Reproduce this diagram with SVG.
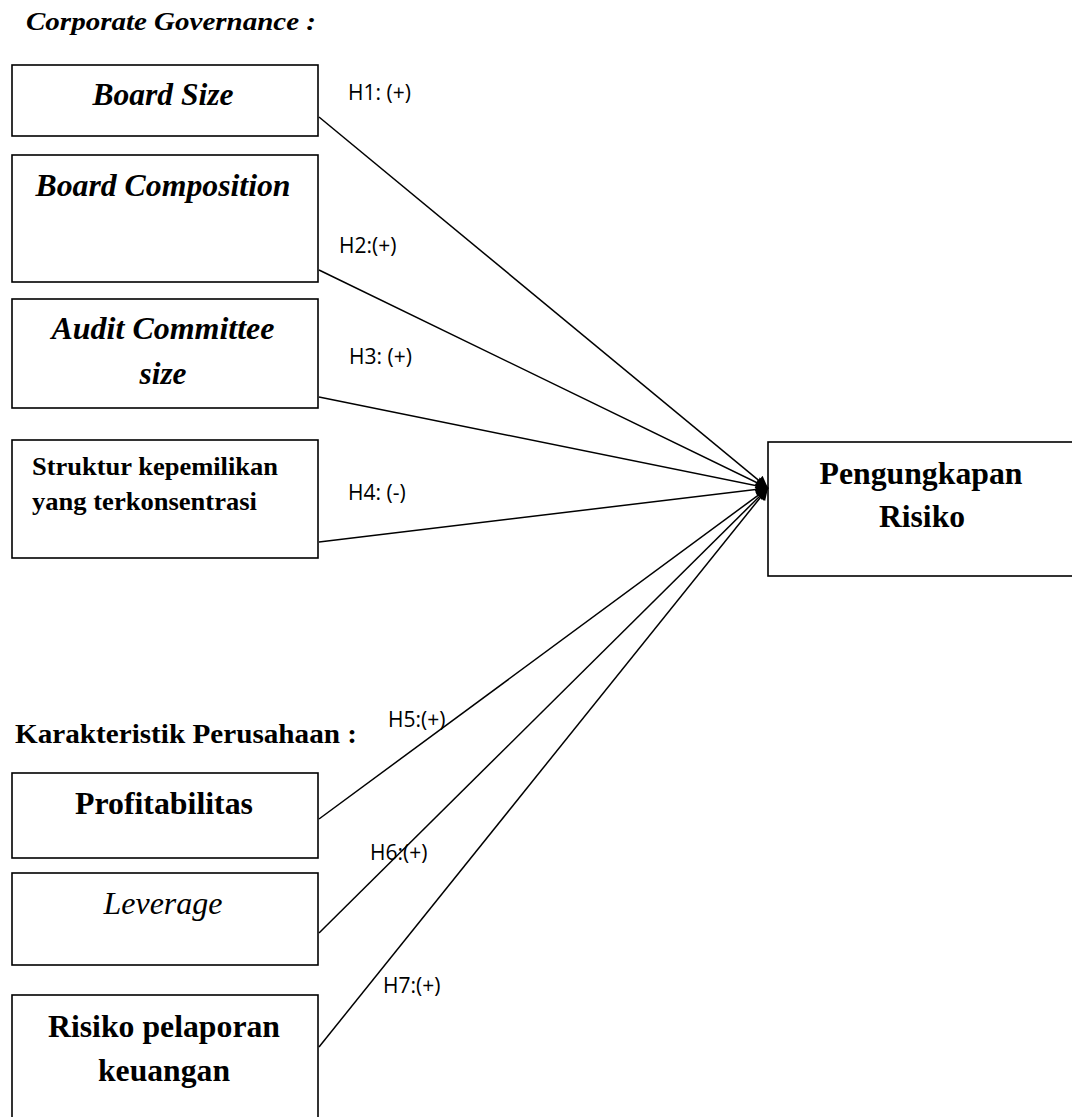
<svg xmlns="http://www.w3.org/2000/svg" width="1072" height="1117" viewBox="0 0 1072 1117">
<style>
.box{fill:#fff;stroke:#000;stroke-width:1.6}
.t{font-family:"Liberation Serif","Times New Roman",serif;font-weight:bold;fill:#000}
.bi{font-style:italic}
.ni{font-style:italic;font-weight:normal}
.lbl{font-family:"Open Sans","Noto Sans",sans-serif;font-size:21px;fill:#000}
.c{stroke:#000;stroke-width:1.5;fill:none;marker-end:url(#ah)}
</style>
<defs>
<marker id="ah" viewBox="0 0 10 10" refX="10" refY="5" markerWidth="12" markerHeight="8" orient="auto" markerUnits="strokeWidth">
<path d="M0,0 L10,5 L0,10 z" fill="#000"/>
</marker>
</defs>
<rect width="1072" height="1117" fill="#fff"/>
<text class="t bi" x="26" y="30" font-size="26" textLength="290" lengthAdjust="spacingAndGlyphs">Corporate Governance :</text>
<text class="t" x="15" y="743" font-size="27" textLength="342" lengthAdjust="spacingAndGlyphs">Karakteristik Perusahaan :</text>
<g id="n1"><rect class="box" x="12" y="65" width="306" height="71"/><text class="t bi" x="163" y="105" font-size="32" text-anchor="middle" textLength="141" lengthAdjust="spacingAndGlyphs">Board Size</text></g>
<g id="n2"><rect class="box" x="12" y="155" width="306" height="127"/><text class="t bi" x="163" y="196" font-size="32" text-anchor="middle" textLength="255" lengthAdjust="spacingAndGlyphs">Board Composition</text></g>
<g id="n3"><rect class="box" x="12" y="299" width="306" height="109"/><text class="t bi" x="163" y="339" font-size="32" text-anchor="middle" textLength="223" lengthAdjust="spacingAndGlyphs">Audit Committee</text><text class="t bi" x="163" y="384" font-size="32" text-anchor="middle" textLength="47" lengthAdjust="spacingAndGlyphs">size</text></g>
<g id="n4"><rect class="box" x="12" y="440" width="306" height="118"/><text class="t" x="32" y="475" font-size="26" textLength="246" lengthAdjust="spacingAndGlyphs">Struktur kepemilikan</text><text class="t" x="32" y="510" font-size="26" textLength="225" lengthAdjust="spacingAndGlyphs">yang terkonsentrasi</text></g>
<g id="n5"><rect class="box" x="12" y="773" width="306" height="85"/><text class="t" x="164" y="814" font-size="32" text-anchor="middle" textLength="178" lengthAdjust="spacingAndGlyphs">Profitabilitas</text></g>
<g id="n6"><rect class="box" x="12" y="873" width="306" height="92"/><text class="t ni" x="163" y="914" font-size="32" text-anchor="middle" textLength="119" lengthAdjust="spacingAndGlyphs">Leverage</text></g>
<g id="n7"><rect class="box" x="12" y="995" width="306" height="130"/><text class="t" x="164" y="1037" font-size="32" text-anchor="middle" textLength="232" lengthAdjust="spacingAndGlyphs">Risiko pelaporan</text><text class="t" x="164" y="1081" font-size="32" text-anchor="middle" textLength="132" lengthAdjust="spacingAndGlyphs">keuangan</text></g>
<g id="n8"><rect class="box" x="768" y="442" width="310" height="134"/><text class="t" x="921" y="484" font-size="32" text-anchor="middle" textLength="203" lengthAdjust="spacingAndGlyphs">Pengungkapan</text><text class="t" x="922" y="527" font-size="32" text-anchor="middle" textLength="86" lengthAdjust="spacingAndGlyphs">Risiko</text></g>
<g id="connectors">
<line class="c" x1="319" y1="117" x2="768" y2="488"/>
<line class="c" x1="319" y1="270" x2="768" y2="488"/>
<line class="c" x1="319" y1="397" x2="768" y2="488"/>
<line class="c" x1="319" y1="542" x2="768" y2="488"/>
<line class="c" x1="319" y1="819" x2="768" y2="488"/>
<line class="c" x1="319" y1="933" x2="768" y2="488"/>
<line class="c" x1="319" y1="1047" x2="768" y2="488"/>
</g>
<g id="labels">
<text class="lbl" x="348" y="100">H1: (+)</text>
<text class="lbl" x="339" y="253">H2:(+)</text>
<text class="lbl" x="349" y="364">H3: (+)</text>
<text class="lbl" x="348" y="500">H4: (-)</text>
<text class="lbl" x="388" y="727">H5:(+)</text>
<text class="lbl" x="370" y="860">H6:(+)</text>
<text class="lbl" x="383" y="993">H7:(+)</text>
</g>
</svg>
